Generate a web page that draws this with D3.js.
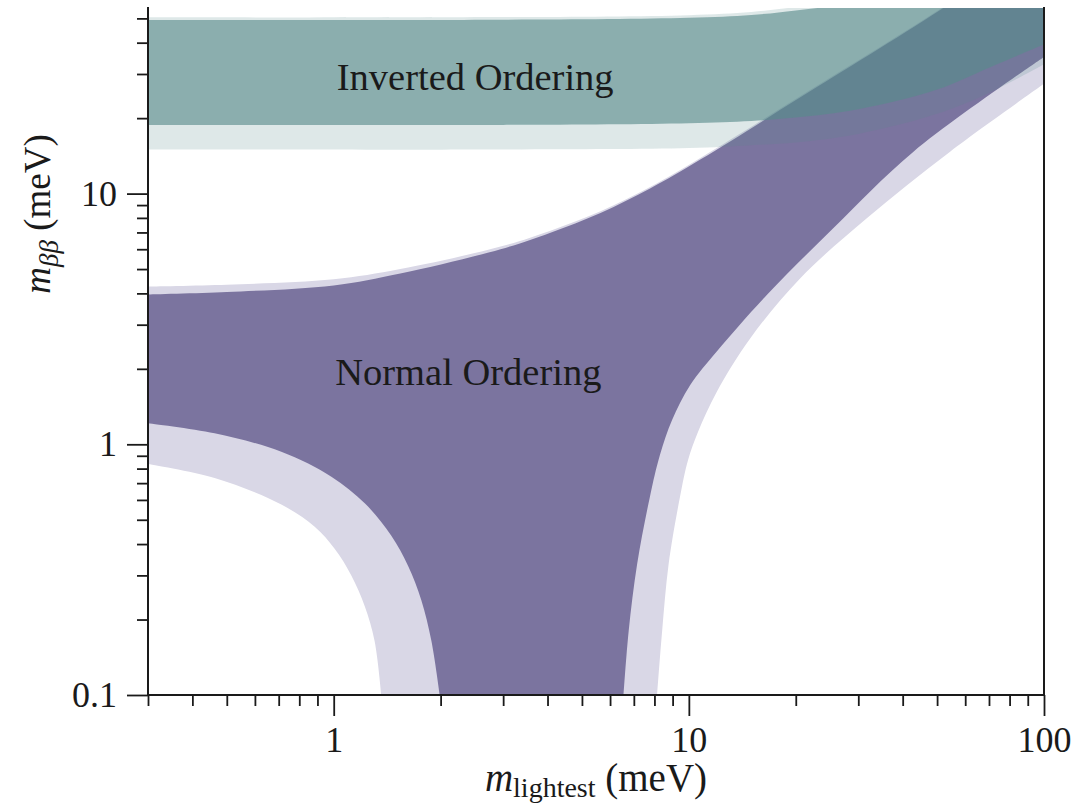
<!DOCTYPE html>
<html lang="en">
<head>
<meta charset="UTF-8">
<title>m_bb vs m_lightest</title>
<script src="https://cdn.jsdelivr.net/npm/d3@7"></script>
<style>
  body { margin: 0; background: #fff; }
  svg text { font-family: "Liberation Serif", "DejaVu Serif", serif; fill: #1a1a1a; }
</style>
</head>
<body>
<svg id="chart" width="1076" height="807"></svg>
<script>
// axis ranges, meV
const xDomain = [0.3, 100];
const yDomain = [0.1, 55];
const xMajorTicks = [1, 10, 100];
const xMinorTicks = [0.3, 0.4, 0.5, 0.6, 0.7, 0.8, 0.9, 2, 3, 4, 5, 6, 7, 8, 9, 20, 30, 40, 50, 60, 70, 80, 90];
const yMajorTicks = [0.1, 1, 10];
const yMinorTicks = [0.2, 0.3, 0.4, 0.5, 0.6, 0.7, 0.8, 0.9, 2, 3, 4, 5, 6, 7, 8, 9, 20, 30, 40, 50];
const xTickLabels = ["1", "10", "100"];
const yTickLabels = ["0.1", "1", "10"];

// Normal ordering, outer (light) band
const noOuterUpperM = [0.3, 0.5, 1, 1.54, 2.95, 4.06, 5.64, 7.8, 10.8, 20.5, 51, 100];
const noOuterUpperV = [4.26, 4.33, 4.55, 5.0, 6.15, 7.1, 8.5, 10.65, 13.9, 24.4, 54.5, 104];
const noOuterLeftM = [0.3, 0.462, 0.712, 0.884, 1.006, 1.121, 1.223, 1.304, 1.361];
const noOuterLeftV = [0.835, 0.734, 0.575, 0.469, 0.383, 0.3, 0.226, 0.164, 0.1];
const noOuterRightM = [8.14, 8.41, 8.77, 9.44, 9.95, 10.61, 11.98, 14.9, 20.6, 31.7, 54.4, 100];
const noOuterRightV = [0.1, 0.18, 0.332, 0.616, 0.866, 1.12, 1.617, 2.65, 4.6, 7.97, 14.7, 27.4];

// Normal ordering, inner (dark) band
const noInnerUpperM = [0.3, 0.5, 1, 1.54, 2.95, 4.06, 5.64, 7.8, 10.8, 20.5, 51, 100];
const noInnerUpperV = [3.96, 4.05, 4.3, 4.8, 6.0, 6.97, 8.37, 10.5, 13.7, 24.1, 54, 103];
const noInnerLeftM = [0.3, 0.462, 0.712, 0.985, 1.223, 1.453, 1.619, 1.765, 1.883, 1.988];
const noInnerLeftV = [1.213, 1.106, 0.934, 0.743, 0.582, 0.432, 0.328, 0.239, 0.165, 0.1];
const noInnerRightM = [6.55, 6.77, 7.15, 7.77, 8.29, 8.97, 10.08, 12.0, 16.6, 25.5, 42.9, 100];
const noInnerRightV = [0.1, 0.18, 0.332, 0.618, 0.906, 1.25, 1.72, 2.35, 3.95, 7.27, 14.7, 35.1];

// Inverted ordering, outer and inner bands
const ioM = [0.3, 3, 10, 15, 20, 30, 50, 70, 100];
const ioOuterUpperV = [50.5, 50.6, 51.5, 53, 55.5, 60, 71, 86, 112];
const ioOuterLowerV = [15.0, 15.0, 15.2, 15.6, 16.0, 17.3, 20.8, 25.2, 32.8];
const ioInnerUpperV = [49.3, 49.4, 50.3, 51.6, 53.8, 58, 69, 84, 110];
const ioInnerLowerV = [18.8, 18.8, 19.1, 19.5, 20.1, 21.7, 26.0, 31.8, 39.3];

const bandLabels = ["Inverted Ordering", "Normal Ordering"];
const labelM = [1.02, 1.01];
const labelV = [25.9, 1.72];

const svg = d3.select('#chart');
const margin = {left: 148, right: 32, top: 8, bottom: 112};
const W = 1076, H = 807;

const x = d3.scaleLog().domain(xDomain).range([margin.left, W - margin.right]);
const y = d3.scaleLog().domain(yDomain).range([H - margin.bottom, margin.top]);

svg.append('defs').append('clipPath').attr('id', 'plotClip')
  .append('rect')
  .attr('x', x(xDomain[0])).attr('y', y(yDomain[1]))
  .attr('width', x(xDomain[1]) - x(xDomain[0]))
  .attr('height', y(yDomain[0]) - y(yDomain[1]));

const line = d3.line().curve(d3.curveCatmullRom.alpha(0.5));
function pts(ms, vs) {
  return ms.map((m, i) => [x(m), y(vs[i])]);
}
// join several edge pieces into one closed outline
function outline(pieces) {
  return pieces.map((p, i) => {
    const d = line(p);
    return i === 0 ? d : 'L' + d.slice(1);
  }).join('') + 'Z';
}

const plot = svg.append('g').attr('clip-path', 'url(#plotClip)');

// NO light band
plot.append('path')
  .attr('d', outline([
    pts(noOuterUpperM, noOuterUpperV),
    pts(noOuterRightM, noOuterRightV).reverse(),
    pts(noOuterLeftM, noOuterLeftV).reverse()
  ]))
  .attr('fill', '#d9d7e6');

// NO dark band
plot.append('path')
  .attr('d', outline([
    pts(noInnerUpperM, noInnerUpperV),
    pts(noInnerRightM, noInnerRightV).reverse(),
    pts(noInnerLeftM, noInnerLeftV).reverse()
  ]))
  .attr('fill', '#7b749f');

// IO bands, see-through over NO
plot.append('path')
  .attr('d', outline([pts(ioM, ioOuterUpperV), pts(ioM, ioOuterLowerV).reverse()]))
  .attr('fill', '#588b8b')
  .attr('fill-opacity', 0.2);
plot.append('path')
  .attr('d', outline([pts(ioM, ioInnerUpperV), pts(ioM, ioInnerLowerV).reverse()]))
  .attr('fill', '#588b8b')
  .attr('fill-opacity', 0.625);

// band labels
svg.selectAll('text.band')
  .data(bandLabels)
  .enter()
  .append('text')
  .attr('class', 'band')
  .attr('x', (d, i) => x(labelM[i]))
  .attr('y', (d, i) => y(labelV[i]))
  .attr('font-size', 38.5)
  .text(d => d);

// axes
const axisColor = '#1a1a1a';
const yBottom = y(yDomain[0]);
const xLeft = x(xDomain[0]);

function styleAxis(g) {
  g.select('.domain').remove();
  g.selectAll('.tick line').attr('stroke', axisColor).attr('stroke-width', 1.8);
  g.selectAll('.tick text')
    .attr('fill', '#1a1a1a')
    .attr('font-size', 36)
    .attr('font-family', '"Liberation Serif", "DejaVu Serif", serif');
}

svg.append('g')
  .attr('transform', `translate(0,${yBottom})`)
  .call(d3.axisBottom(x).tickValues(xMinorTicks).tickSize(11).tickFormat(''))
  .call(styleAxis);
svg.append('g')
  .attr('transform', `translate(0,${yBottom})`)
  .call(d3.axisBottom(x).tickValues(xMajorTicks).tickSize(21).tickPadding(10)
    .tickFormat((d, i) => xTickLabels[i]))
  .call(styleAxis);

svg.append('g')
  .attr('transform', `translate(${xLeft},0)`)
  .call(d3.axisLeft(y).tickValues(yMinorTicks).tickSize(11).tickFormat(''))
  .call(styleAxis);
svg.append('g')
  .attr('transform', `translate(${xLeft},0)`)
  .call(d3.axisLeft(y).tickValues(yMajorTicks).tickSize(21).tickPadding(10)
    .tickFormat((d, i) => yTickLabels[i]))
  .call(styleAxis);

// spines: left, bottom, right
const spines = [
  [xLeft, y(yDomain[1]), xLeft, yBottom],
  [xLeft, yBottom, x(xDomain[1]), yBottom],
  [x(xDomain[1]), y(yDomain[1]), x(xDomain[1]), yBottom]
];
svg.selectAll('line.spine')
  .data(spines)
  .enter()
  .append('line')
  .attr('class', 'spine')
  .attr('x1', d => d[0]).attr('y1', d => d[1])
  .attr('x2', d => d[2]).attr('y2', d => d[3])
  .attr('stroke', axisColor)
  .attr('stroke-width', 2)
  .attr('stroke-linecap', 'square');

// axis titles
const xTitle = svg.append('text')
  .attr('x', (margin.left + W - margin.right) / 2)
  .attr('y', 791)
  .attr('text-anchor', 'middle')
  .attr('font-size', 39);
xTitle.append('tspan').attr('font-style', 'italic').text('m');
xTitle.append('tspan').attr('dy', 6).attr('font-size', 28).text('lightest');
xTitle.append('tspan').attr('dy', -6).text(' (meV)');

const yTitle = svg.append('text')
  .attr('transform', 'translate(50,214) rotate(-90)')
  .attr('text-anchor', 'middle')
  .attr('font-size', 37);
yTitle.append('tspan').attr('font-style', 'italic').text('m');
yTitle.append('tspan').attr('dy', 8).attr('font-size', 27).attr('font-style', 'italic').text('ββ');
yTitle.append('tspan').attr('dy', -8).text(' (meV)');
</script>
</body>
</html>
